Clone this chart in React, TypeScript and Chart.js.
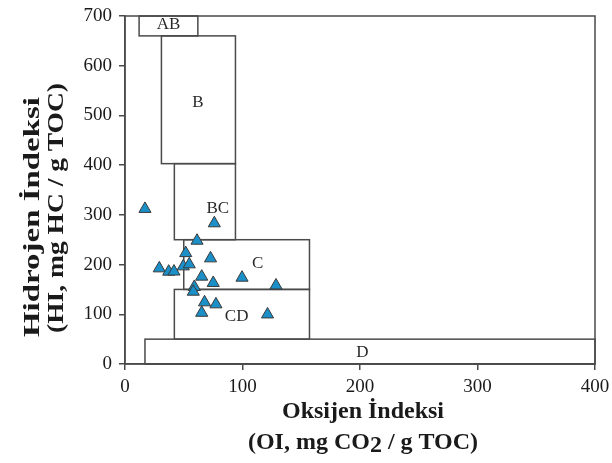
import React, { useEffect, useRef } from "react";
import { Chart, registerables } from "chart.js";
Chart.register(...registerables);

// Sample data: Oxygen Index (x) and Hydrogen Index (y)
const oiValues = [17, 76, 61.3, 51.7, 72.8, 29.2, 37.2, 41.7, 49.6, 54.7, 65.3, 75.1, 99.6, 128.5, 59, 58.1, 67.7, 77.4, 65.3, 121.3];
const hiValues = [312, 283, 248, 223, 212.5, 192.4, 185.7, 186, 196.4, 200.4, 175.7, 163, 173.6, 158, 155, 145.4, 124, 120, 103, 99.7];

// Kerogen zones
const zoneNames = ["AB", "B", "BC", "C", "CD", "D"];
const zoneOiMin = [12, 31, 42, 50, 42, 17];
const zoneOiMax = [62, 94, 94, 157, 157, 400];
const zoneHiMin = [660, 403, 250, 150, 50, 0];
const zoneHiMax = [700, 660, 403, 250, 150, 50];
const zoneLabelOi = [37, 62, 79, 113, 95, 202];
const zoneLabelHi = [683, 525, 313, 202, 96, 23];

const xTickValues = [0, 100, 200, 300, 400];
const yTickValues = [0, 100, 200, 300, 400, 500, 600, 700];

const yTitleLines = ["Hidrojen İndeksi", "(HI, mg HC / g TOC)"];
const xTitleLine1 = "Oksijen İndeksi";
const xTitleLine2Parts = ["(OI, mg CO", "2", " / g TOC)"];

const SERIF = '"Liberation Serif", "Times New Roman", serif';
const LINE = "#4a4a4a";

function drawStretched(ctx: any, text: string, cx: number, cy: number, target: number) {
  const w = ctx.measureText(text).width;
  const sx = target / w;
  ctx.save();
  ctx.translate(cx, cy);
  ctx.rotate(-Math.PI / 2);
  ctx.scale(sx, 1);
  ctx.fillText(text, 0, 0);
  ctx.restore();
}

const zonesPlugin = {
  id: "zones",
  beforeDatasetsDraw(chart: any) {
    const { ctx, scales, chartArea } = chart;
    const xs = scales.x;
    const ys = scales.y;
    ctx.save();
    ctx.strokeStyle = LINE;
    ctx.lineWidth = 1.5;
    for (let i = 0; i < zoneNames.length; i++) {
      const x0 = xs.getPixelForValue(zoneOiMin[i]);
      const x1 = xs.getPixelForValue(zoneOiMax[i]);
      const y0 = ys.getPixelForValue(zoneHiMax[i]);
      const y1 = ys.getPixelForValue(zoneHiMin[i]);
      ctx.strokeRect(x0, y0, x1 - x0, y1 - y0);
    }
    ctx.fillStyle = "#2a2a2a";
    ctx.font = `17px ${SERIF}`;
    ctx.textAlign = "center";
    ctx.textBaseline = "middle";
    for (let i = 0; i < zoneNames.length; i++) {
      ctx.fillText(zoneNames[i], xs.getPixelForValue(zoneLabelOi[i]), ys.getPixelForValue(zoneLabelHi[i]));
    }
    ctx.strokeStyle = LINE;
    ctx.lineWidth = 1.5;
    ctx.strokeRect(chartArea.left, chartArea.top, chartArea.right - chartArea.left, chartArea.bottom - chartArea.top);
    ctx.restore();
  },
  afterDraw(chart: any) {
    const { ctx } = chart;
    ctx.save();
    ctx.fillStyle = "#1a1a1a";
    ctx.font = `bold 24px ${SERIF}`;
    ctx.textAlign = "center";
    ctx.textBaseline = "middle";
    drawStretched(ctx, yTitleLines[0], 33, 217, 240);
    drawStretched(ctx, yTitleLines[1], 57, 208, 250);
    const cx = 363;
    ctx.fillText(xTitleLine1, cx, 412);
    ctx.textAlign = "left";
    const widths = xTitleLine2Parts.map((p) => ctx.measureText(p).width);
    const total = widths.reduce((a, b) => a + b, 0);
    let x = cx - total / 2;
    const y2 = 443;
    ctx.fillText(xTitleLine2Parts[0], x, y2);
    x += widths[0];
    ctx.fillText(xTitleLine2Parts[1], x, y2 + 3);
    x += widths[1];
    ctx.fillText(xTitleLine2Parts[2], x, y2);
    ctx.restore();
  },
};

export default function App() {
  const ref = useRef<HTMLCanvasElement | null>(null);
  useEffect(() => {
    if (!ref.current) return;
    const chart = new Chart(ref.current, {
      type: "scatter",
      data: {
        datasets: [
          {
            data: oiValues.map((v, i) => ({ x: v, y: hiValues[i] })),
            pointStyle: "triangle",
            pointRadius: 7,
            backgroundColor: "#1a8fc8",
            borderColor: "#3a3a3a",
            borderWidth: 1,
          },
        ],
      },
      options: {
        animation: false,
        responsive: true,
        maintainAspectRatio: false,
        layout: { padding: { top: 16, right: 17, left: 0, bottom: 0 } },
        plugins: { legend: { display: false }, tooltip: { enabled: false } },
        scales: {
          x: {
            type: "linear",
            min: 0,
            max: 400,
            afterFit: (s: any) => { s.height = 99; s.paddingLeft = 0; s.paddingRight = 0; },
            afterBuildTicks: (s: any) => { s.ticks = xTickValues.map((v) => ({ value: v })); },
            ticks: { color: "#1a1a1a", font: { family: SERIF, size: 19 }, padding: 6, maxRotation: 0 },
            grid: { drawOnChartArea: false, drawTicks: true, tickLength: 6, color: LINE, lineWidth: 1.5 },
            border: { display: true, color: LINE, width: 1.5 },
          },
          y: {
            type: "linear",
            min: 0,
            max: 700,
            afterFit: (s: any) => { s.width = 125; s.paddingTop = 0; s.paddingBottom = 0; },
            afterBuildTicks: (s: any) => { s.ticks = yTickValues.map((v) => ({ value: v })); },
            ticks: { color: "#1a1a1a", font: { family: SERIF, size: 19 }, padding: 7 },
            grid: { drawOnChartArea: false, drawTicks: true, tickLength: 6, color: LINE, lineWidth: 1.5 },
            border: { display: true, color: LINE, width: 1.5 },
          },
        },
      },
      plugins: [zonesPlugin],
    });
    return () => chart.destroy();
  }, []);
  return (
    <div style={{ position: "fixed", left: 0, top: 0, width: 612, height: 463, background: "#fff" }}>
      <canvas ref={ref} />
    </div>
  );
}
